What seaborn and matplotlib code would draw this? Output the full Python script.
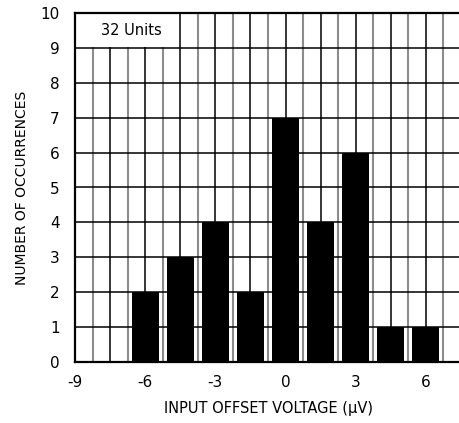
import matplotlib
matplotlib.use("Agg")
import matplotlib.pyplot as plt
import seaborn as sns
import numpy as np
import pandas as pd
from matplotlib.patches import Rectangle

centers = [-6, -4.5, -3, -1.5, 0, 1.5, 3, 4.5, 6]
counts = [2, 3, 4, 2, 7, 4, 6, 1, 1]
xticks = [-9, -6, -3, 0, 3, 6]
yticks = list(range(0, 11))

sns.set_theme(style="white")
plt.rcParams['font.family'] = ['DejaVu Sans']

fig = plt.figure(figsize=(4.6, 4.23), dpi=100)
ax = fig.add_axes([75/460, 61/423, (461-75)/460, (362-13)/423])

df = pd.DataFrame({"v": centers, "n": counts})
sns.barplot(data=df, x="v", y="n", native_scale=True, width=0.77,
            color="black", saturation=1, edgecolor="none", ax=ax, zorder=2)

ax.set_xlim(-9, 7.5)
ax.set_ylim(0, 10)

# grid
for x in np.arange(-9, 7.6, 0.75):
    major = abs((x / 1.5) - round(x / 1.5)) < 1e-6
    ax.axvline(x, color="black" if major else "#8c8c8c",
               lw=1.1 if major else 1.5, zorder=1)
for y in yticks:
    ax.axhline(y, color="black", lw=1.1, zorder=1)

# label box
ax.add_patch(Rectangle((-8.95, 9.04), 4.4, 0.92, facecolor="white",
                       edgecolor="none", zorder=3))
ax.text(-6.6, 9.5, "32 Units", ha="center", va="center", fontsize=10.5,
        color="black", zorder=4)

ax.set_xticks(xticks)
ax.set_xticklabels([str(t) for t in xticks])
ax.set_yticks(yticks)
ax.tick_params(length=0, labelsize=11, colors="black")
ax.tick_params(axis="y", pad=11)
ax.tick_params(axis="x", pad=9)
ax.set_xlabel("INPUT OFFSET VOLTAGE (µV)", fontsize=10.5, color="black", labelpad=8)
ax.set_ylabel("NUMBER OF OCCURRENCES", fontsize=10, color="black", labelpad=8)

for side in ["left", "bottom", "top"]:
    ax.spines[side].set_visible(True)
    ax.spines[side].set_color("black")
    ax.spines[side].set_linewidth(1.6)
    ax.spines[side].set_zorder(5)
ax.spines["right"].set_visible(False)

fig.savefig("out.png", dpi=100)
